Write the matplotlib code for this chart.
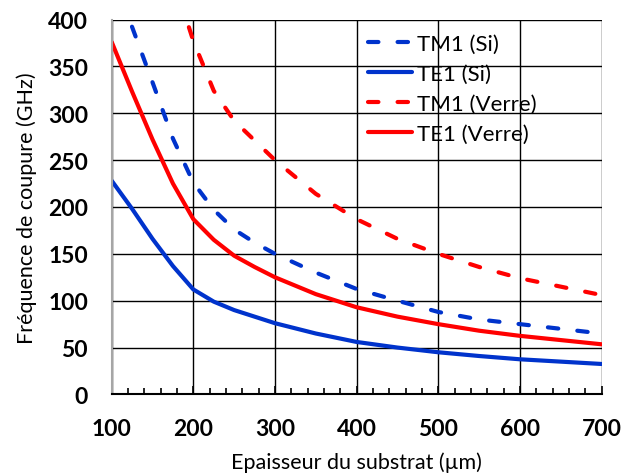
import matplotlib
matplotlib.use('Agg')
import matplotlib.pyplot as plt
from matplotlib.ticker import MultipleLocator

plt.rcParams['font.family'] = ['Lato', 'DejaVu Sans']

# epaisseur (um) / frequence (GHz)
x_main = [100, 125, 150, 175, 200, 225, 250, 275, 300, 350, 400, 450, 500, 550, 600, 650, 700]
te1_si = [228, 198, 166, 137, 112, 99, 90, 83, 76, 65, 56, 50, 45, 41, 37.5, 35, 32.5]
te1_verre = [376, 323, 272, 225, 187, 165, 148, 136, 125, 107, 93, 83, 75, 68, 62.5, 58, 53.5]
tm1_si = [450, 392, 333, 273, 226, 197, 176, 162, 150, 130, 112.5, 100, 88, 80, 75, 70, 65]
x_tm1_verre = [175, 200, 225, 250, 275, 300, 350, 400, 450, 500, 550, 600, 650, 700]
tm1_verre = [445, 377, 324, 292, 271, 250, 214, 187, 166, 150, 136, 124, 115, 106]

blue = '#0033cc'
red = '#ff0000'

fig = plt.figure(figsize=(6.24, 4.77), dpi=100)
ax = fig.add_axes([0.179, 0.171, 0.785, 0.786])

lw = 3.0
dash = (2.5, 4.6)
ax.plot(x_main, tm1_si, color=blue, lw=lw, dashes=dash, dash_capstyle='round', label='TM1 (Si)')
ax.plot(x_main, te1_si, color=blue, lw=lw, solid_capstyle='round', label='TE1 (Si)')
ax.plot(x_tm1_verre, tm1_verre, color=red, lw=lw, dashes=dash, dash_capstyle='round', label='TM1 (Verre)')
ax.plot(x_main, te1_verre, color=red, lw=lw, solid_capstyle='round', label='TE1 (Verre)')

ax.set_xlim(100, 700)
ax.set_ylim(0, 400)
ax.xaxis.set_major_locator(MultipleLocator(100))
ax.xaxis.set_minor_locator(MultipleLocator(20))
ax.yaxis.set_major_locator(MultipleLocator(50))
ax.grid(True, which='major', color='black', lw=1.0)
ax.set_axisbelow(True)

for s in ['top', 'right']:
    ax.spines[s].set_visible(False)
ax.spines['left'].set_color('#a6a6a6')
ax.spines['left'].set_linewidth(1.5)
ax.spines['bottom'].set_color('black')
ax.spines['bottom'].set_linewidth(1.5)

ax.tick_params(axis='x', which='major', direction='in', length=6, width=1.2, labelsize=16.5, pad=17)
ax.tick_params(axis='x', which='minor', direction='in', length=4.3, width=1.2)
ax.tick_params(axis='y', which='major', length=0, labelsize=16.5, pad=17)
for lab in ax.get_xticklabels() + ax.get_yticklabels():
    lab.set_fontweight('bold')

ax.set_xlabel('Epaisseur du substrat (µm)', fontsize=15.5, labelpad=9)
ax.set_ylabel('Fréquence de coupure (GHz)', fontsize=15.5, labelpad=8)

leg = ax.legend(loc='upper left', bbox_to_anchor=(0.523, 0.962), frameon=False, fontsize=16,
                handlelength=2.0, handletextpad=0.22, labelspacing=0.45, borderaxespad=0,
                borderpad=0)

fig.savefig('out.png', dpi=100)
